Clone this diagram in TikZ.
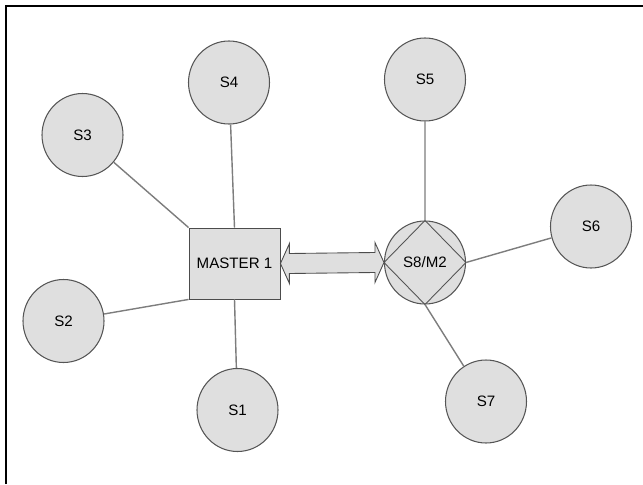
\documentclass[tikz,border=0pt]{standalone}
\usepackage{fontspec}
\setmainfont{Liberation Sans}
\usetikzlibrary{shapes.geometric,calc}
\definecolor{nodefill}{RGB}{223,223,223}
\definecolor{outl}{RGB}{85,85,85}
\definecolor{link}{RGB}{125,125,125}

\begin{document}
\begin{tikzpicture}[scale=0.2]
\tikzstyle{every node}+=[inner sep=0pt, font=\fontsize{8.6}{10}\selectfont]
\tikzstyle{slave}=[ellipse, draw=outl, fill=nodefill, line width=0.6pt, minimum width=1.62cm, minimum height=1.66cm]
\tikzstyle{master}=[rectangle, draw=black!70, fill=nodefill, line width=0.5pt, minimum width=1.82cm, minimum height=1.42cm]
\tikzstyle{wire}=[draw=link, line width=0.8pt]
\tikzstyle{bigarrow}=[draw=black!70, fill=nodefill, line width=0.5pt, line join=miter]
\useasboundingbox (0,0) rectangle (64.3,-48.4);
\draw [black, line width=1pt] (0.63,-48.4) -- (0.63,-0.63) -- (64.3,-0.63);
% master side
\node [master] (m) at (23.45,-26.35) {MASTER 1};
\node [slave] (s1) at (23.75,-41.0) {S1};
\node [slave] (s2) at (6.35,-32.1) {S2};
\node [slave] (s3) at (8.25,-13.5) {S3};
\node [slave] (s4) at (22.9,-8.25) {S4};
% second master
\node [slave] (s8) at (42.5,-26.25) {S8/M2};
\draw [outl, line width=0.5pt] (s8.north) -- (s8.east) -- (s8.south) -- (s8.west) -- cycle;
\node [slave] (s5) at (42.5,-7.95) {S5};
\node [slave] (s6) at (59.1,-22.65) {S6};
\node [slave] (s7) at (48.6,-40.15) {S7};
% links
\draw [wire] (m.north west) -- (s3);
\draw [wire] (m.south west) -- (s2);
\draw [wire] (m.north) -- (s4);
\draw [wire] (m.south) -- (s1);
\draw [wire] (s8.north) -- (s5);
\draw [wire] (s8.east) -- (s6);
\draw [wire] (s8.south) -- (s7);
% double arrow between the masters
\draw [bigarrow] (m.east) -- ($(m.east)+(0.9,2)$) -- ($(m.east)+(0.9,1)$)
  -- ($(s8.west)+(-0.9,1)$) -- ($(s8.west)+(-0.9,2)$) -- (s8.west)
  -- ($(s8.west)+(-0.9,-2)$) -- ($(s8.west)+(-0.9,-1)$)
  -- ($(m.east)+(0.9,-1)$) -- ($(m.east)+(0.9,-2)$) -- cycle;
\end{tikzpicture}
\end{document}
